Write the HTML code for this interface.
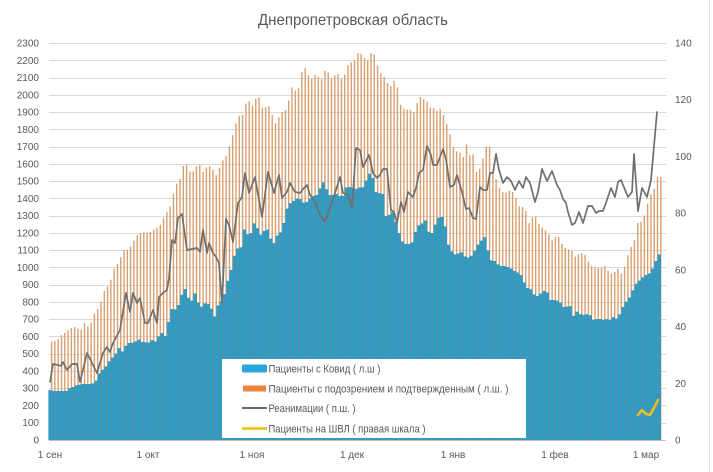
<!DOCTYPE html>
<html><head><meta charset="utf-8">
<style>
html,body{margin:0;padding:0;background:#fff;}
svg{display:block;}
text{font-family:"Liberation Sans",Arial,sans-serif;fill:#595959;}
</style>
</head><body>
<svg id="c" width="713" height="472" viewBox="0 0 713 472" xmlns="http://www.w3.org/2000/svg">
<rect width="713" height="472" fill="#fff"/>
<line x1="709.5" y1="0" x2="709.5" y2="472" stroke="#e3e3e3" stroke-width="1"/>
<g id="grid"></g>
<g id="bars"></g>
<g id="lines"></g>
<line x1="49" y1="440.5" x2="666" y2="440.5" stroke="#bfbfbf" stroke-width="1"/>
<text x="353" y="25" font-size="16" text-anchor="middle" textLength="190" lengthAdjust="spacingAndGlyphs">Днепропетровская область</text>
<g font-size="10" text-anchor="end">
<text x="39" y="443.5">0</text>
<text x="39" y="426.2">100</text>
<text x="39" y="409">200</text>
<text x="39" y="391.7">300</text>
<text x="39" y="374.5">400</text>
<text x="39" y="357.2">500</text>
<text x="39" y="340">600</text>
<text x="39" y="322.7">700</text>
<text x="39" y="305.4">800</text>
<text x="39" y="288.2">900</text>
<text x="39" y="270.9">1000</text>
<text x="39" y="253.6">1100</text>
<text x="39" y="236.4">1200</text>
<text x="39" y="219.1">1300</text>
<text x="39" y="201.9">1400</text>
<text x="39" y="184.6">1500</text>
<text x="39" y="167.3">1600</text>
<text x="39" y="150.1">1700</text>
<text x="39" y="132.8">1800</text>
<text x="39" y="115.5">1900</text>
<text x="39" y="98.3">2000</text>
<text x="39" y="81">2100</text>
<text x="39" y="63.8">2200</text>
<text x="39" y="46.5">2300</text>
</g>
<g font-size="10" text-anchor="start">
<text x="675" y="443.5">0</text>
<text x="675" y="386.8">20</text>
<text x="675" y="330.1">40</text>
<text x="675" y="273.3">60</text>
<text x="675" y="216.6">80</text>
<text x="675" y="159.9">100</text>
<text x="675" y="103.2">120</text>
<text x="675" y="46.5">140</text>
</g>
<g font-size="10" text-anchor="middle">
<text x="50" y="458">1 сен</text>
<text x="148" y="458">1 окт</text>
<text x="252" y="458">1 ноя</text>
<text x="352" y="458">1 дек</text>
<text x="453" y="458">1 янв</text>
<text x="555" y="458">1 фев</text>
<text x="646" y="458">1 мар</text>
</g>
<g id="legend">
<rect x="222" y="359" width="304" height="79" fill="#fff"/>
<rect x="242" y="364.5" width="25" height="8" rx="1.5" fill="#29a6dc"/>
<rect x="243" y="385.5" width="23" height="6" fill="#e8843c"/>
<line x1="242" y1="408" x2="267" y2="408" stroke="#6d6d6d" stroke-width="2"/>
<line x1="242" y1="428.5" x2="267" y2="428.5" stroke="#f2c000" stroke-width="2.5"/>
<g font-size="11">
<text x="268.5" y="372.5" textLength="112" lengthAdjust="spacingAndGlyphs">Пациенты с Ковид ( л.ш )</text>
<text x="268.5" y="392.5" textLength="240" lengthAdjust="spacingAndGlyphs">Пациенты с подозрением и подтвержденным ( л.ш. )</text>
<text x="268.5" y="412" textLength="87" lengthAdjust="spacingAndGlyphs">Реанимации ( п.ш. )</text>
<text x="268.5" y="432.5" textLength="157" lengthAdjust="spacingAndGlyphs">Пациенты на ШВЛ ( правая шкала )</text>
</g>
</g>
</svg>
<script>
(function(){
var NS="http://www.w3.org/2000/svg";
function el(tag,attrs,parent){var e=document.createElementNS(NS,tag);for(var k in attrs)e.setAttribute(k,attrs[k]);parent.appendChild(e);return e;}
function interp(p,x){if(x<=p[0][0])return p[0][1];for(var i=1;i<p.length;i++){if(x<=p[i][0]){var a=p[i-1],b=p[i];return a[1]+(b[1]-a[1])*(x-a[0])/(b[0]-a[0]);}}return p[p.length-1][1];}
var grid=document.getElementById('grid'),bars=document.getElementById('bars'),lines=document.getElementById('lines'),svg=document.getElementById('c'),legend=document.getElementById('legend');
for(var v=100;v<=2300;v+=100){var y=Math.round(440-v*397/2300)+0.5;el('line',{x1:49,y1:y,x2:666,y2:y,stroke:'#d9d9d9','stroke-width':1},grid);}
var orange=[[49,342],[53,341],[57,339],[60,335],[63,333],[67,330],[70,328],[73,327],[77,329],[80,330],[83,323],[87,327],[90,322],[93,313],[97,308],[100,300],[103,290],[107,285],[110,278],[113,267],[117,263],[120,255],[123,249],[127,250],[130,245],[133,239],[137,233],[140,233],[143,232],[147,233],[150,231],[153,229],[157,227],[160,223],[163,215],[167,210],[170,203],[173,188],[177,180],[180,178],[183,157],[187,172],[190,171],[193,172],[197,160],[200,173],[203,171],[206,165],[209,167],[213,172],[216,178],[219,162],[223,159],[226,153],[229,142],[233,129],[236,117],[239,115],[242,115],[246,95],[249,107],[252,105],[256,93],[259,102],[262,112],[265,105],[269,107],[272,122],[275,124],[279,112],[282,112],[285,109],[289,93],[292,81],[295,98],[299,78],[302,64],[305,72],[309,79],[312,78],[315,72],[319,83],[322,72],[325,69],[329,78],[332,78],[335,71],[339,79],[342,79],[345,67],[349,62],[352,64],[355,53],[358,53],[361,55],[365,62],[368,57],[371,49],[375,62],[378,72],[381,75],[385,80],[388,90],[391,80],[395,82],[398,103],[401,108],[405,110],[408,108],[411,115],[415,105],[417,97],[420,97],[423,100],[426,102],[430,110],[433,107],[436,112],[440,107],[443,120],[447,128],[451,145],[454,153],[457,148],[461,162],[464,139],[467,157],[471,151],[474,172],[477,172],[481,160],[484,149],[487,138],[491,173],[494,177],[497,187],[501,192],[504,193],[507,190],[511,192],[514,197],[517,206],[521,207],[524,210],[527,224],[530,219],[533,213],[536,223],[539,225],[543,231],[546,229],[549,242],[553,238],[556,234],[559,242],[563,247],[566,250],[569,248],[573,257],[576,255],[579,253],[583,254],[586,260],[589,266],[593,267],[596,268],[599,268],[603,266],[606,270],[609,274],[613,272],[616,268],[619,275],[623,267],[626,256],[629,248],[633,240],[636,223],[639,223],[643,215],[646,204],[649,195],[653,188],[656,177],[661,177]];
var blue=[[49,390],[55,391],[60,391],[67,391],[70,388],[73,387],[77,385],[83,384],[90,384],[95,383],[100,372],[105,368],[110,360],[115,355],[119,348],[123,352],[127,343],[131,343],[135,342],[138,339],[142,342],[145,342],[148,343],[152,340],[155,342],[158,337],[162,333],[165,337],[168,325],[171,308],[174,312],[177,305],[180,305],[183,287],[186,290],[189,300],[193,301],[195,293],[199,305],[202,307],[205,303],[209,304],[213,312],[216,320],[218,305],[222,300],[225,293],[228,280],[232,267],[235,253],[238,248],[242,247],[245,224],[248,236],[252,232],[255,220],[258,230],[262,237],[265,228],[268,230],[272,243],[275,243],[278,233],[282,232],[285,217],[288,205],[292,202],[295,200],[298,198],[302,200],[305,205],[308,200],[312,197],[315,195],[318,195],[322,182],[325,183],[328,195],[332,195],[335,195],[338,193],[342,200],[345,188],[348,187],[352,187],[355,190],[358,187],[362,188],[365,185],[368,173],[372,175],[376,192],[379,193],[383,194],[386,217],[389,215],[393,212],[396,223],[399,233],[403,243],[406,244],[409,244],[413,242],[416,230],[419,225],[423,223],[426,220],[429,233],[433,233],[436,222],[439,217],[443,217],[446,230],[449,248],[453,253],[456,255],[459,253],[463,252],[466,259],[469,257],[473,255],[476,248],[479,243],[483,239],[486,236],[489,258],[493,262],[496,260],[499,267],[503,265],[506,267],[509,267],[513,270],[516,272],[520,273],[523,280],[527,288],[530,288],[533,293],[536,297],[540,294],[543,292],[546,289],[550,300],[553,300],[556,300],[560,302],[563,307],[566,307],[570,305],[573,317],[576,311],[580,314],[583,315],[586,314],[590,315],[593,320],[596,319],[600,319],[603,320],[606,319],[610,320],[613,317],[616,319],[620,314],[623,307],[626,302],[630,297],[633,290],[636,284],[640,280],[643,277],[646,275],[650,273],[653,268],[655,266],[657,255],[661,254]];
var gray=[[50,382],[53,364],[58,365],[61,366],[63,362],[67,370],[72,364],[77,364],[80,382],[87,353],[92,363],[97,373],[103,353],[107,347],[110,352],[113,343],[120,330],[126,293],[130,312],[133,293],[137,303],[140,298],[145,323],[148,323],[153,310],[157,323],[159,297],[163,293],[167,290],[169,278],[172,240],[175,243],[178,218],[182,214],[187,250],[192,249],[197,248],[200,252],[203,230],[207,253],[209,243],[213,253],[216,257],[219,263],[222,303],[226,219],[229,225],[233,242],[238,203],[242,197],[245,173],[249,193],[255,177],[262,217],[268,172],[274,193],[279,175],[282,198],[287,192],[290,183],[295,192],[300,193],[303,189],[307,185],[310,195],[315,202],[320,215],[325,222],[330,207],[335,193],[340,177],[343,193],[348,195],[352,208],[356,148],[360,150],[363,167],[369,155],[373,173],[377,178],[380,175],[383,169],[387,169],[391,210],[394,212],[397,223],[401,202],[404,212],[408,192],[413,197],[416,188],[419,173],[423,170],[427,146],[431,155],[433,165],[437,165],[443,149],[446,159],[450,187],[454,185],[457,175],[462,192],[466,209],[469,208],[473,218],[476,219],[480,187],[483,190],[487,190],[490,173],[493,173],[496,154],[499,170],[503,183],[507,177],[511,181],[515,190],[519,181],[523,188],[526,177],[530,183],[535,202],[538,192],[542,169],[547,181],[552,171],[557,185],[560,190],[563,199],[566,203],[568,212],[572,225],[575,223],[579,212],[583,223],[588,206],[592,206],[596,213],[599,211],[603,211],[607,200],[611,188],[615,197],[618,182],[621,180],[628,197],[632,192],[634,154],[638,211],[642,188],[647,197],[651,180],[657,112]];
var yellow=[[638,415],[642,410],[646,414],[650,415],[655,406],[658,400]];
var w=3.293;
for(var i=0;i<186;i++){
  var cx=50+w*i;
  var by=interp(blue,cx), oy=interp(orange,cx);
  el('rect',{x:(cx-1.65).toFixed(2),y:by.toFixed(1),width:3.35,height:(440-by).toFixed(1),fill:'#2e9dc8'},bars);
  if(by>oy) el('rect',{x:(cx+0.9).toFixed(2),y:oy.toFixed(1),width:1.4,height:(by-oy).toFixed(1),fill:'#d8a070'},bars);
  el('rect',{x:(cx+0.95).toFixed(2),y:by.toFixed(1),width:1.1,height:(440-by).toFixed(1),fill:'#5e8a94'},bars);
}
function pl(p,stroke,sw){var s=p.map(function(q){return q[0]+','+q[1];}).join(' ');el('polyline',{points:s,fill:'none',stroke:stroke,'stroke-width':sw,'stroke-linejoin':'round','stroke-linecap':'round'},lines);}
pl(gray,'#6f6f6f',1.7);
pl(yellow,'#f0c020',2.5);
svg.appendChild(legend);
})();
</script>
</body></html>
